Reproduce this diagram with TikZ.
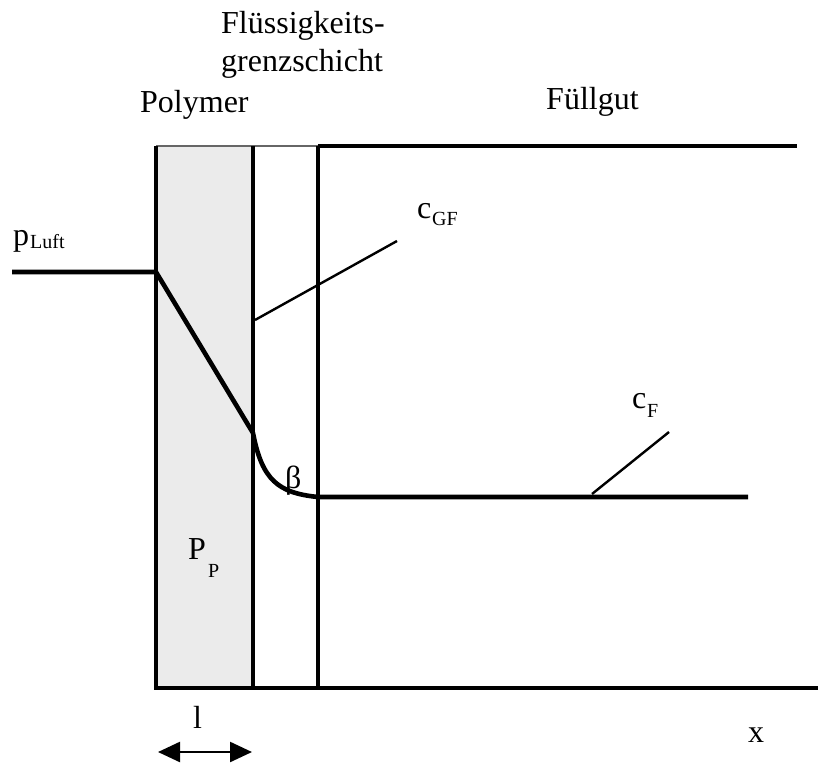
\documentclass[tikz,border=0pt]{standalone}
\usepackage{fontspec}
\setmainfont{Liberation Serif}
\usetikzlibrary{arrows.meta}
\begin{document}
\begin{tikzpicture}[x=1pt,y=-1pt,
  thickline/.style={line width=4.6pt},
  leader/.style={line width=2.4pt},
  lbl/.style={inner sep=0pt,anchor=base west,font=\fontsize{32}{37}\selectfont},
  sub/.style={inner sep=0pt,anchor=base west,font=\fontsize{20}{24}\selectfont}]
\useasboundingbox (0,0) rectangle (818,765);
% polymer layer
\fill[black!8] (156,146) rectangle (253,688);
\draw[line width=2.4pt,black!60] (156,146) -- (318,146);
\draw[thickline] (156,146) -- (156,688);
\draw[thickline] (253,146) -- (253,688);
\draw[thickline] (318,146) -- (318,688);
\draw[thickline] (318,146) -- (797,146);
\draw[thickline] (154,688) -- (818,688);
% concentration profile
\coordinate (l0) at (12,272);
\coordinate (l1) at (156,272);
\coordinate (l2) at (253,433);
\coordinate (l3) at (318,497);
\coordinate (l4) at (748,497);
\draw[thickline,line join=round] (l0) -- (l1) -- (l2)
  .. controls (262,480) and (278,493) .. (l3) -- (l4);
% labels
\node[lbl] (fl1) at (221,34) {Flüssigkeits-};
\node[lbl] (fl2) at (221,72) {grenzschicht};
\node[lbl] (poly) at (140,113) {Polymer};
\node[lbl] (fuell) at (546,110) {Füllgut};
\node[lbl] (p) at (13,245) {p};
\node[sub] (luft) at (30,248) {Luft};
\node[lbl] (c1) at (417,218) {c};
\node[sub] (gf) at (432,225) {GF};
\node[lbl] (c2) at (632,408) {c};
\node[sub] (f) at (647,417) {F};
\node[lbl] (beta) at (285,488) {β};
\node[lbl] (pp) at (188,559) {P};
\node[sub] (ppsub) at (208,577) {P};
\node[lbl] (el) at (193,728) {l};
\node[lbl] (xl) at (748,742) {x};
% leaders
\coordinate (g0) at (255,320);
\coordinate (g1) at (397,241);
\draw[leader] (g0) -- (g1);
\coordinate (f0) at (592,494);
\coordinate (f1) at (669,432);
\draw[leader] (f0) -- (f1);
% dimension arrow
\coordinate (la) at (158,752);
\coordinate (lb) at (252,752);
\draw[line width=2.4pt,{Triangle[length=22pt,width=20pt]}-{Triangle[length=22pt,width=20pt]}] (la) -- (lb);
\end{tikzpicture}
\end{document}
